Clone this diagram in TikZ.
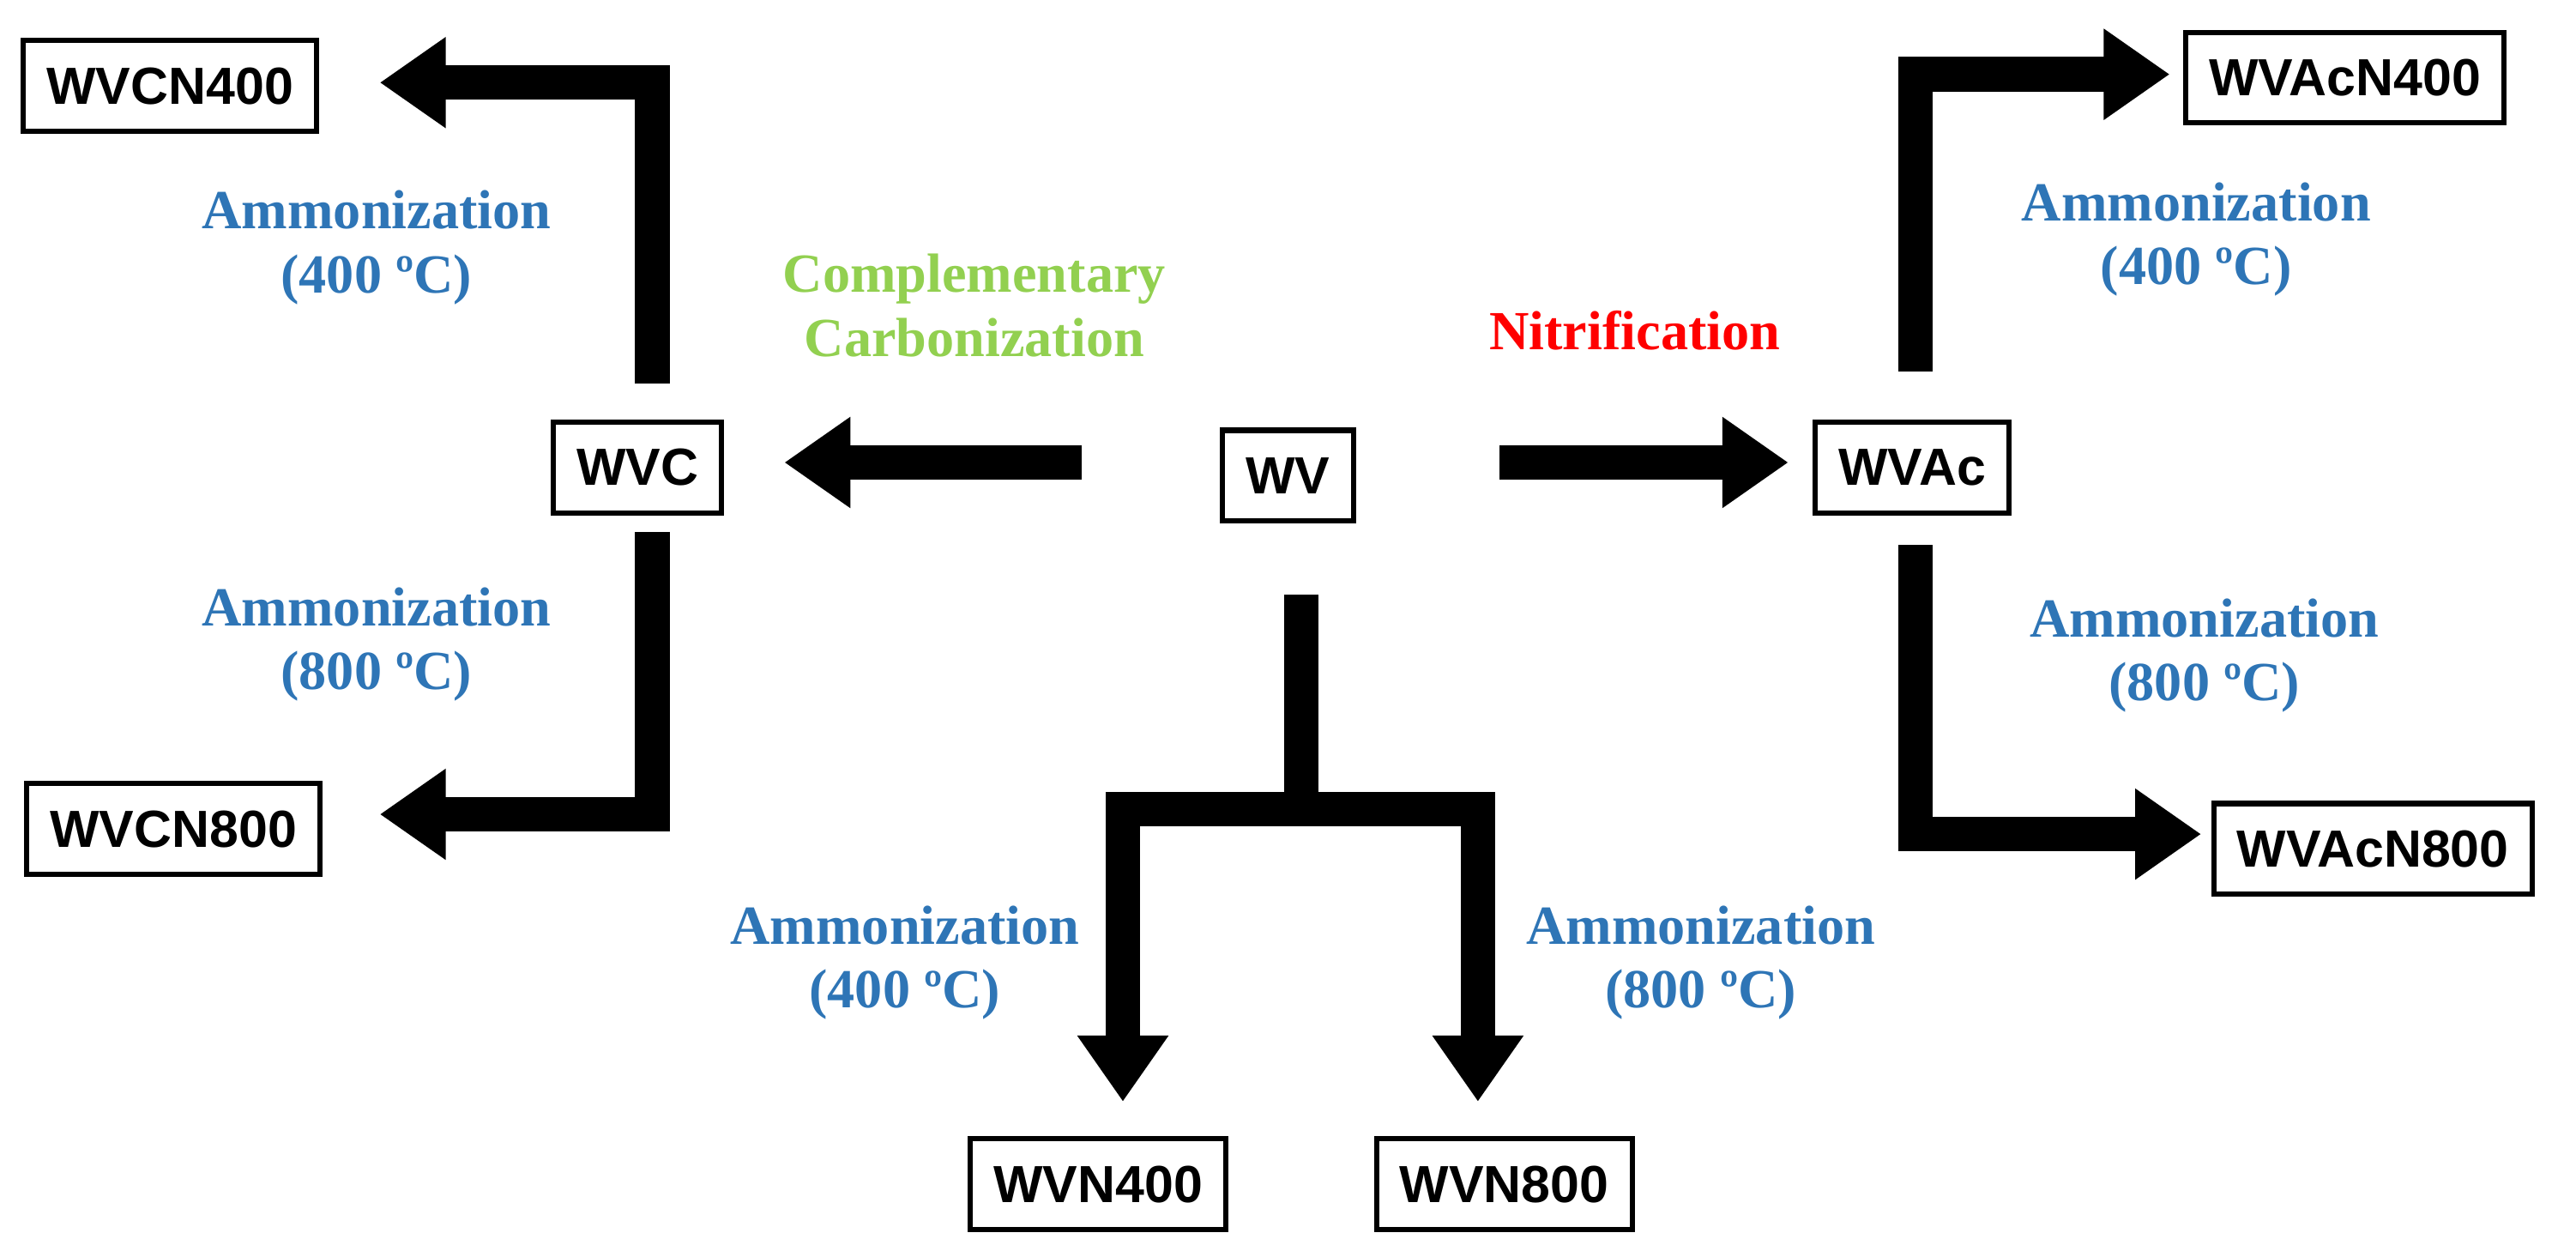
\documentclass[tikz,border=0pt]{standalone}
\usepackage{fontspec}
\setmainfont{Liberation Serif}
\newfontfamily\boxfont{Liberation Sans}
\usetikzlibrary{arrows.meta}
\definecolor{ablue}{RGB}{46,117,182}
\definecolor{agreen}{RGB}{146,208,80}
\begin{document}
\begin{tikzpicture}[x=0.02cm,y=-0.02cm,
  box/.style={draw,line width=1.8pt,font=\boxfont\bfseries\fontsize{18}{22}\selectfont,minimum height=1.1cm,inner xsep=8pt},
  lab/.style={font=\bfseries\fontsize{19}{22}\selectfont,align=center,text=ablue},
  arr/.style={line width=0.42cm,miter limit=10,-{Triangle[length=0.8cm,width=1.05cm]}},
  bar/.style={line width=0.42cm}]
\useasboundingbox (0,0) rectangle (1560,757);
\node[box] (wvcn400) at (103,52) {WVCN400};
\node[box] (wvcn800) at (105,502) {WVCN800};
\node[box] (wvc) at (386,283) {WVC};
\node[box] (wv) at (780,288) {WV};
\node[box] (wvac) at (1158,283) {WVAc};
\node[box] (wvacn400) at (1420,47) {WVAcN400};
\node[box] (wvacn800) at (1437,514) {WVAcN800};
\node[box] (wvn400) at (665,717) {WVN400};
\node[box] (wvn800) at (911,717) {WVN800};
% coordinates
\coordinate (a1) at (655,280); \coordinate (a2) at (475,280);
\coordinate (b1) at (908,280); \coordinate (b2) at (1083,280);
\coordinate (c1) at (395,232); \coordinate (c2) at (395,50); \coordinate (c3) at (230,50);
\coordinate (d1) at (395,322); \coordinate (d2) at (395,493); \coordinate (d3) at (230,493);
\coordinate (e1) at (1160,225); \coordinate (e2) at (1160,45); \coordinate (e3) at (1314,45);
\coordinate (f1) at (1160,330); \coordinate (f2) at (1160,505); \coordinate (f3) at (1333,505);
\coordinate (g1) at (788,360); \coordinate (g2) at (788,490);
\coordinate (h1) at (680,490); \coordinate (h2) at (680,667);
\coordinate (i1) at (895,490); \coordinate (i2) at (895,667);
\draw[arr] (a1) -- (a2);
\draw[arr] (b1) -- (b2);
\draw[arr] (c1) -- (c2) -- (c3);
\draw[arr] (d1) -- (d2) -- (d3);
\draw[arr] (e1) -- (e2) -- (e3);
\draw[arr] (f1) -- (f2) -- (f3);
\draw[bar] (g1) -- (g2);
\draw[bar,line cap=butt] ([xshift=-0.21cm]h1) -- ([xshift=0.21cm]i1);
\draw[arr] ([yshift=0.21cm]h1) -- (h2);
\draw[arr] ([yshift=0.21cm]i1) -- (i2);
% labels
\node[lab] (l1) at (228,150) {Ammonization\\(400 ºC)};
\node[lab] (l2) at (228,390) {Ammonization\\(800 ºC)};
\node[lab,text=agreen] (l3) at (590,185) {Complementary\\Carbonization};
\node[lab,text=red] (l4) at (990,200) {Nitrification};
\node[lab] (l5) at (1330,145) {Ammonization\\(400 ºC)};
\node[lab] (l6) at (1335,397) {Ammonization\\(800 ºC)};
\node[lab] (l7) at (548,583) {Ammonization\\(400 ºC)};
\node[lab] (l8) at (1030,583) {Ammonization\\(800 ºC)};
\end{tikzpicture}
\end{document}
